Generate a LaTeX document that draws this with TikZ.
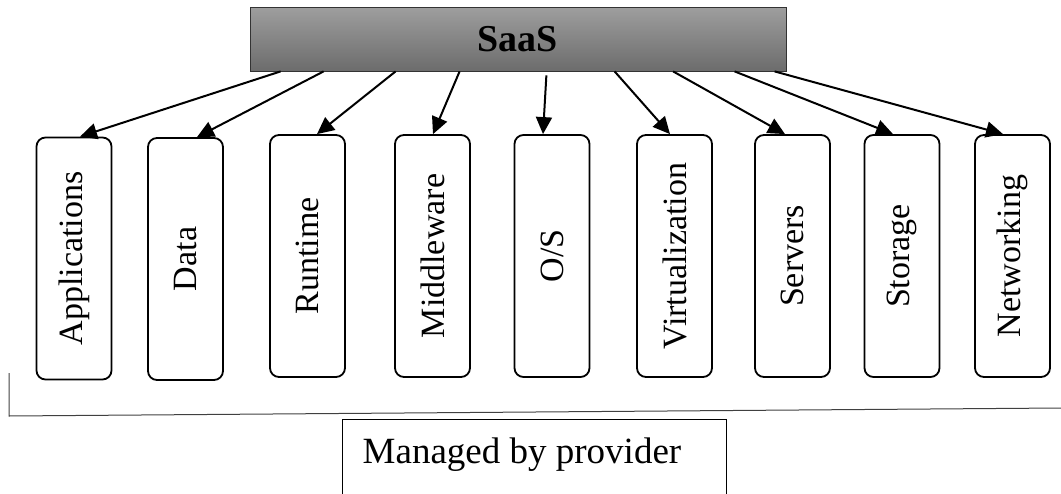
\documentclass[tikz,border=0pt]{standalone}
\usepackage{fontspec}
\setmainfont{Liberation Serif}
\usepackage{tikz}
\usetikzlibrary{arrows.meta}
\definecolor{saastop}{RGB}{158,158,158}
\definecolor{saasbot}{RGB}{108,108,108}
\tikzstyle{es} = [-{Triangle[length=17pt,width=16pt]}, line width=2pt]
\tikzstyle{layer} = [draw, line width=1.8pt, rounded corners=9pt, rotate=90, minimum width=242pt, minimum height=75pt, inner sep=0pt, font=\fontsize{34}{40}\selectfont]

\begin{document}
\begin{tikzpicture}[yscale=-1]
			\useasboundingbox (0pt,0pt) rectangle (1061pt,493pt);
			\node (saas) at (518pt,39pt)[draw=black!80, line width=0.8pt, top color=saastop, bottom color=saasbot, minimum width=536pt, minimum height=64pt, font=\fontsize{38}{44}\selectfont\bfseries]{SaaS};
			\node (app) at (74pt,258.5pt)[layer]{Applications};
			\node (data) at (185.5pt,259pt)[layer]{Data};
			\node (runtime) at (307.5pt,256pt)[layer]{Runtime};
			\node (middleware) at (432.5pt,256pt)[layer]{Middleware};
			\node (os) at (552pt,256pt)[layer]{O/S};
			\node (virt) at (674.5pt,256pt)[layer]{Virtualization};
			\node (servers) at (792.5pt,256pt)[layer]{Servers};
			\node (storage) at (902pt,256pt)[layer]{Storage};
			\node (net) at (1012.5pt,256pt)[layer]{Networking};
			\draw[es] ([xshift=31pt]saas.south west) -- ([xshift=6pt]app.east);
			\draw[es] ([xshift=74pt]saas.south west) -- ([xshift=11.5pt]data.east);
			\draw[es] ([xshift=146pt]saas.south west) -- ([xshift=9.5pt]runtime.east);
			\draw[es] ([xshift=210pt]saas.south west) -- ([xshift=0.5pt]middleware.east);
			\draw[es, shorten <=4pt] ([xshift=297pt]saas.south west) -- ([xshift=-9pt]os.east);
			\draw[es] ([xshift=365pt]saas.south west) -- ([xshift=-4.5pt]virt.east);
			\draw[es] ([xshift=423.5pt]saas.south west) -- ([xshift=-7.5pt]servers.east);
			\draw[es] ([xshift=485pt]saas.south west) -- ([xshift=-9pt]storage.east);
			\draw[es] ([xshift=525pt]saas.south west) -- ([xshift=-9.5pt]net.east);
			\draw[line width=1pt, black!75] (9pt,373pt) -- (9pt,416pt) -- (1061pt,408pt);
			\node (managed) at (522pt,455pt)[font=\fontsize{37}{44}\selectfont]{Managed by provider};
			\draw[line width=0.8pt] (342pt,500pt) |- (726pt,419pt) -- (726pt,500pt);
		\end{tikzpicture}
\end{document}
